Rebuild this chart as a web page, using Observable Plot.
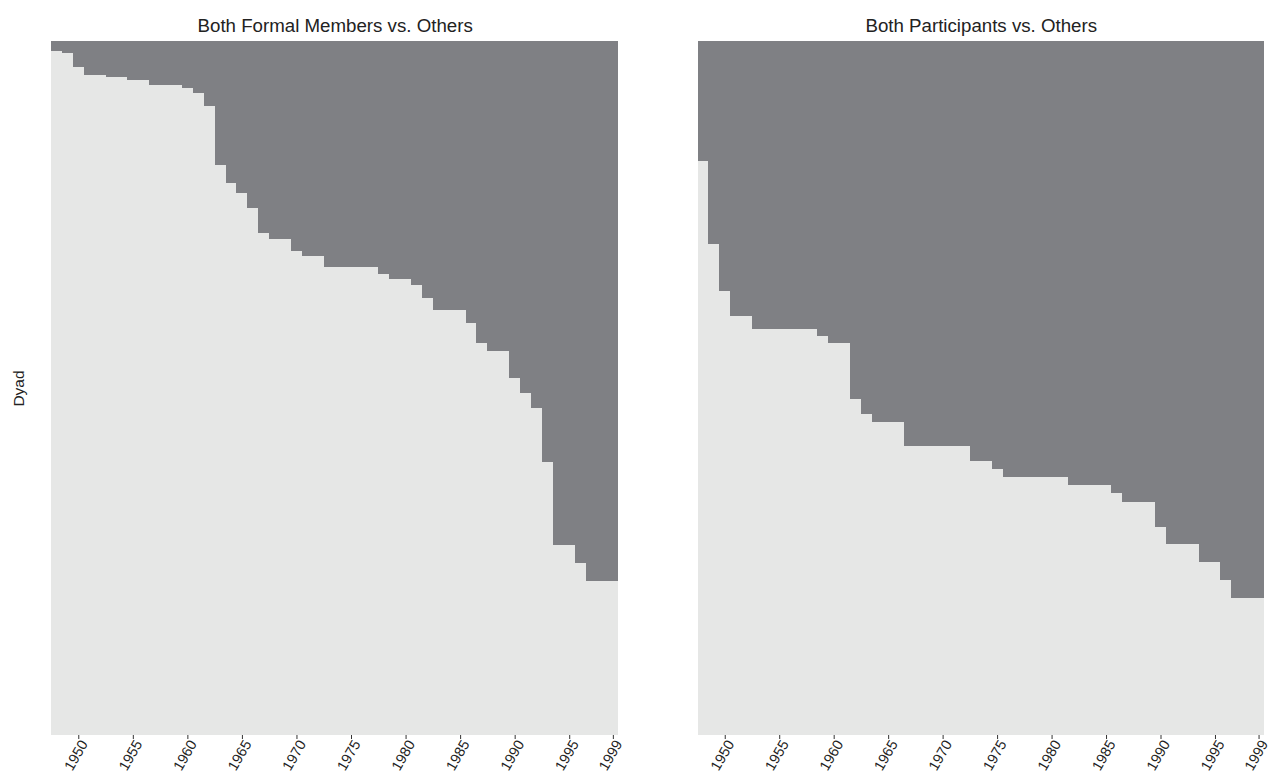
<!DOCTYPE html>
<html>
<head>
<meta charset="utf-8">
<script src="https://cdn.jsdelivr.net/npm/d3@7"></script>
<script src="https://cdn.jsdelivr.net/npm/@observablehq/plot@0.6"></script>
<style>
  html, body { margin: 0; padding: 0; background: #fff; }
  #wrap { position: relative; width: 1271px; height: 776px; overflow: hidden; }
  .panel { position: absolute; top: 0; }
</style>
</head>
<body>
<div id="wrap"></div>
<script>
// ---- data ----
const years = [1948,1949,1950,1951,1952,1953,1954,1955,1956,1957,1958,1959,1960,1961,1962,1963,1964,1965,1966,1967,1968,1969,1970,1971,1972,1973,1974,1975,1976,1977,1978,1979,1980,1981,1982,1983,1984,1985,1986,1987,1988,1989,1990,1991,1992,1993,1994,1995,1996,1997,1998,1999];
const tickYears = [1950,1955,1960,1965,1970,1975,1980,1985,1990,1995,1999];
const panelTitles = ["Both Formal Members vs. Others", "Both Participants vs. Others"];
const yLabel = "Dyad";
// share of dyads (in %) in the light (lower) state, per year
const formalLight = [98.56,98.31,96.21,95.06,95.06,94.86,94.86,94.38,94.38,93.66,93.66,93.66,93.18,92.46,90.68,82.09,79.54,78.05,75.98,72.29,71.47,71.47,69.81,68.99,68.99,67.39,67.39,67.39,67.39,67.39,66.47,65.66,65.66,64.80,63.01,61.24,61.24,61.24,59.32,56.44,55.37,55.37,51.40,49.32,47.16,39.38,27.38,27.38,24.83,22.19,22.19,22.19];
const participantLight = [82.71,70.71,63.93,60.37,60.37,58.46,58.46,58.46,58.46,58.46,58.46,57.49,56.53,56.53,48.37,46.21,45.06,45.06,45.06,41.71,41.71,41.71,41.71,41.71,41.71,39.44,39.44,38.29,37.13,37.13,37.13,37.13,37.13,37.13,35.98,35.98,35.98,35.98,34.83,33.57,33.57,33.57,29.93,27.48,27.48,27.48,24.93,24.93,22.29,19.70,19.70,19.70];
const dyadTotal = 100;

const DARK = "#7f8084";
const LIGHT = "#e6e7e6";
const FONT = "'Liberation Sans', Arial, Helvetica, sans-serif";

function panel(values, title, opts) {
  const rows = years.map((y, i) => ({year: y, light: values[i], total: dyadTotal}));
  const marks = [
    Plot.barY(rows, {x: "year", y1: "light", y2: "total", fill: DARK, shapeRendering: "crispEdges"}),
    Plot.barY(rows, {x: "year", y1: 0, y2: "light", fill: LIGHT, shapeRendering: "crispEdges"}),
    // tick marks
    Plot.axisX({ticks: tickYears, tickSize: 4, tickFormat: () => "", label: null, stroke: "#333"}),
    // tick labels
    Plot.axisX({ticks: tickYears, tickSize: 0, tickPadding: 6, tickFormat: d => String(d), tickRotate: -60, fontSize: 14.5, dx: 5.5, label: null, fill: "#222"}),
    Plot.text([title], {frameAnchor: "top", lineAnchor: "bottom", dy: -9.3, fontSize: 18.7, fill: "#222"})
  ];
  if (opts.showY) {
    marks.push(Plot.text([yLabel], {frameAnchor: "left", textAnchor: "middle", lineAnchor: "middle", rotate: -90, dx: -32, fontSize: 15.5, fill: "#222"}));
  }
  return Plot.plot({
    width: opts.width,
    height: 776,
    marginTop: 41,
    marginBottom: 41,
    marginLeft: opts.marginLeft,
    marginRight: opts.marginRight,
    style: {fontFamily: FONT, fontSize: "14.5px", background: "transparent", overflow: "visible"},
    x: {type: "band", domain: years, padding: 0, axis: null},
    y: {domain: [0, dyadTotal], axis: null},
    marks
  });
}

const wrap = document.getElementById("wrap");
const left = panel(formalLight, panelTitles[0], {width: 636, marginLeft: 51, marginRight: 17.7, showY: true});
left.classList.add("panel"); left.style.left = "0px";
const right = panel(participantLight, panelTitles[1], {width: 635, marginLeft: 61.5, marginRight: 7, showY: false});
right.classList.add("panel"); right.style.left = "636px";
wrap.appendChild(left);
wrap.appendChild(right);
</script>
</body>
</html>
